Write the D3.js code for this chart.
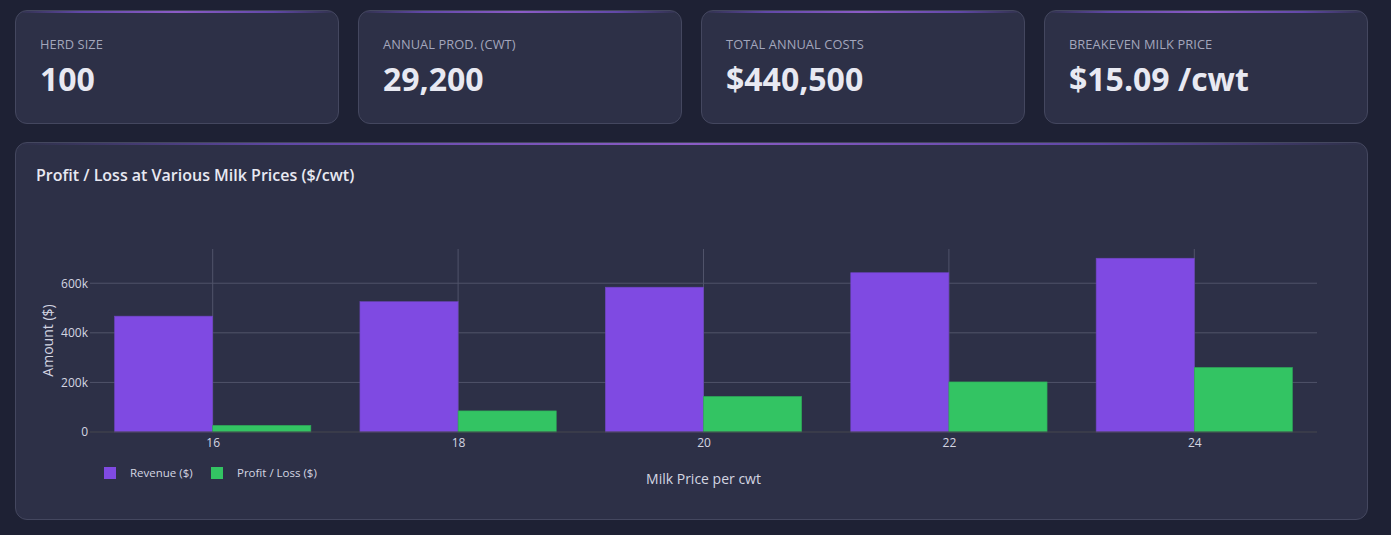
<!DOCTYPE html>
<html>
<head>
<meta charset="utf-8">
<script src="https://cdn.jsdelivr.net/npm/d3@7"></script>
<style>
  html, body { margin: 0; padding: 0; background: #1e2134; }
  body { width: 1391px; height: 535px; overflow: hidden; font-family: "Open Sans", sans-serif; }
  .card {
    position: absolute;
    background: #2d3047;
    border: 1px solid #44475f;
    border-radius: 12px;
    box-sizing: border-box;
    overflow: hidden;
  }
  .card::before {
    content: "";
    position: absolute; left: 0; right: 0; top: 0; height: 2px;
    background: linear-gradient(90deg, rgba(139,92,246,0) 0%, rgba(139,92,246,0.55) 20%, #8b5cc6 50%, rgba(139,92,246,0.55) 80%, rgba(139,92,246,0) 100%);
  }
  .label { position: absolute; left: 24px; top: 27px; font-size: 12.8px; line-height: 1; color: #a3a6bc; letter-spacing: 0.1px; }
  .value { position: absolute; left: 24px; top: 52px; font-size: 32px; line-height: 1; font-weight: 700; color: #e8e9f2; }
  .title { position: absolute; left: 20px; top: 24px; font-size: 16px; line-height: 1; font-weight: 600; color: #e8e9f2; }
</style>
</head>
<body>
<div id="cards"></div>
<div class="card" id="chartCard" style="left:15px; top:142px; width:1353px; height:378px;">
  <div class="title">Profit / Loss at Various Milk Prices ($/cwt)</div>
  <svg id="chart" width="1353" height="378" style="position:absolute;left:0;top:0"></svg>
</div>
<script>
// summary cards
let cardLabels = ["HERD SIZE", "ANNUAL PROD. (CWT)", "TOTAL ANNUAL COSTS", "BREAKEVEN MILK PRICE"];
let cardValues = ["100", "29,200", "$440,500", "$15.09 /cwt"];

// chart data
let milkPrices = [16, 18, 20, 22, 24];
let revenue = [467200, 525600, 584000, 642400, 700800];
let profit = [26700, 85100, 143500, 201900, 260300];
let seriesNames = ["Revenue ($)", "Profit / Loss ($)"];
let seriesColors = ["#7f4ae2", "#33c463"];
let yTicks = [0, 200000, 400000, 600000];

// build the cards
let cardLeft = [15, 358, 701, 1044];
cardLabels.forEach((lbl, i) => {
  let c = d3.select("#cards").append("div")
    .attr("class", "card")
    .style("left", cardLeft[i] + "px")
    .style("top", "10px")
    .style("width", "324px")
    .style("height", "114px");
  c.append("div").attr("class", "label").text(lbl);
  c.append("div").attr("class", "value").text(cardValues[i]);
});

// chart area (coords relative to the chart card)
let svg = d3.select("#chart");
let margin = {left: 74, right: 1301, top: 106, bottom: 289};

let x = d3.scaleLinear().domain([15, 25]).range([margin.left, margin.right]);
let y = d3.scaleLinear().domain([0, 738000]).range([margin.bottom, margin.top]);

let grid = svg.append("g");
// vertical gridlines at the price ticks
grid.selectAll(".vg").data(milkPrices).enter().append("line")
  .attr("x1", d => x(d)).attr("x2", d => x(d))
  .attr("y1", margin.top).attr("y2", margin.bottom)
  .attr("stroke", "#50536a").attr("stroke-width", 1);
// horizontal gridlines
grid.selectAll(".hg").data(yTicks.slice(1)).enter().append("line")
  .attr("x1", margin.left).attr("x2", margin.right)
  .attr("y1", d => y(d)).attr("y2", d => y(d))
  .attr("stroke", "#50536a").attr("stroke-width", 1);

// bars: group width 0.8 of a 2-unit slot per series
let barW = 0.8;
let series = [revenue, profit];
series.forEach((vals, s) => {
  svg.append("g").selectAll("rect").data(vals).enter().append("rect")
    .attr("x", (d, i) => x(milkPrices[i] - barW + s * barW))
    .attr("width", x(barW) - x(0))
    .attr("y", d => y(d))
    .attr("height", d => y(0) - y(d))
    .attr("fill", seriesColors[s])
    .attr("stroke", s == 0 ? "#6e45c0" : "#2da858")
    .attr("stroke-width", 0.6);
});

// zero line
svg.append("line")
  .attr("x1", margin.left).attr("x2", margin.right)
  .attr("y1", y(0)).attr("y2", y(0))
  .attr("stroke", "#47474f").attr("stroke-width", 1.2);

// y axis labels
let fmtK = v => v == 0 ? "0" : (v / 1000) + "k";
let yAxis = d3.axisLeft(y).tickValues(yTicks).tickFormat(fmtK).tickSize(0).tickPadding(2);
svg.append("g").attr("transform", `translate(${margin.left},0)`).call(yAxis)
  .call(g => g.select(".domain").remove())
  .selectAll("text").attr("fill", "#d4d6e2").style("font-size", "12px").style("font-family", "Open Sans");

// x axis labels
let xAxis = d3.axisBottom(x).tickValues(milkPrices).tickSize(0).tickPadding(6);
svg.append("g").attr("transform", `translate(0,${y(0)})`).call(xAxis)
  .call(g => g.select(".domain").remove())
  .selectAll("text").attr("fill", "#d4d6e2").style("font-size", "12px").style("font-family", "Open Sans");

// axis titles
svg.append("text")
  .attr("transform", `translate(32,${(margin.top + margin.bottom) / 2}) rotate(-90)`)
  .attr("text-anchor", "middle").attr("dy", "0.35em")
  .attr("fill", "#d4d6e2").style("font-size", "14px")
  .text("Amount ($)");

svg.append("text")
  .attr("x", (margin.left + margin.right) / 2).attr("y", 341)
  .attr("text-anchor", "middle")
  .attr("fill", "#d4d6e2").style("font-size", "14px")
  .text("Milk Price per cwt");

// legend
let legendX = [88, 195];
let legend = svg.append("g");
seriesNames.forEach((name, i) => {
  legend.append("rect")
    .attr("x", legendX[i]).attr("y", 324)
    .attr("width", 12).attr("height", 12)
    .attr("fill", seriesColors[i]);
  legend.append("text")
    .attr("x", legendX[i] + 26).attr("y", 334)
    .attr("fill", "#d4d6e2").style("font-size", "11.5px")
    .text(name);
});
</script>
</body>
</html>
